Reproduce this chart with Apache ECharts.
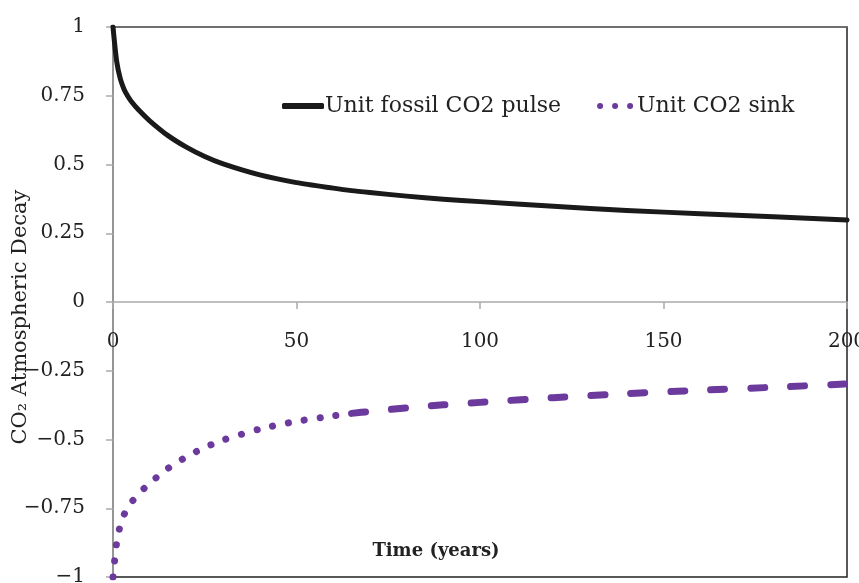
<!DOCTYPE html>
<html>
<head>
<meta charset="utf-8">
<script src="https://cdn.jsdelivr.net/npm/echarts@6/dist/echarts.min.js"></script>
<style>
html,body{margin:0;padding:0;background:#fff;}
#chart{width:859px;height:583px;}
</style>
</head>
<body>
<div id="chart"></div>
<script>
// Data
var years = [0, 1, 2, 3, 4, 5, 7, 10, 15, 20, 25, 30, 40, 50, 60, 65, 70, 80, 90, 100, 120, 140, 160, 180, 200];
var pulse = [1, 0.875, 0.811, 0.774, 0.749, 0.729, 0.698, 0.659, 0.605, 0.563, 0.529, 0.502, 0.462, 0.434, 0.414, 0.405, 0.398, 0.385, 0.374, 0.365, 0.348, 0.333, 0.321, 0.310, 0.298];
var sink = [-1, -0.875, -0.811, -0.774, -0.749, -0.729, -0.698, -0.659, -0.605, -0.563, -0.529, -0.502, -0.462, -0.434, -0.414, -0.405, -0.398, -0.385, -0.374, -0.365, -0.348, -0.333, -0.321, -0.310, -0.298];
var xTicks = [0, 50, 100, 150, 200];
var yTicks = [-1, -0.75, -0.5, -0.25, 0, 0.25, 0.5, 0.75, 1];
var seriesNames = ['Unit fossil CO2 pulse', 'Unit CO2 sink'];
var splitYear = 65; // where the sink line style changes from dots to dashes

var pulseData = years.map(function (y, i) { return [y, pulse[i]]; });
var sinkData = years.map(function (y, i) { return [y, sink[i]]; });
var sinkDots = sinkData.filter(function (d) { return d[0] <= splitYear; });
var sinkDashes = sinkData.filter(function (d) { return d[0] >= splitYear; });

var chart = echarts.init(document.getElementById('chart'));
var font = 'DejaVu Serif';
var purple = '#6b3a9c';
var gridH = 583 - 27 - 6;

chart.setOption({
  animation: false,
  backgroundColor: '#fff',
  grid: {
    left: 113, right: 12, top: 27, bottom: 6,
    containLabel: false, outerBoundsMode: 'none',
    show: true, borderColor: '#222', borderWidth: 1.5, backgroundColor: 'transparent'
  },
  legend: {
    data: [
      { name: seriesNames[0], icon: 'roundRect' },
      { name: seriesNames[1], icon: 'path://M0,3.5a3.5,3.5 0 1,0 7,0a3.5,3.5 0 1,0 -7,0M17.5,3.5a3.5,3.5 0 1,0 7,0a3.5,3.5 0 1,0 -7,0M35,3.5a3.5,3.5 0 1,0 7,0a3.5,3.5 0 1,0 -7,0Z' }
    ],
    left: 277, top: 90,
    itemWidth: 42, itemHeight: 6, itemGap: 36,
    textStyle: { fontFamily: font, fontSize: 22, color: '#222', padding: [0, 0, 0, -4] }
  },
  xAxis: [{
    type: 'value', min: 0, max: 200, interval: 50,
    position: 'bottom', offset: -gridH / 2,
    axisLine: { onZero: false, lineStyle: { color: '#aaa', width: 1.5 } },
    axisTick: { show: true, length: 7, lineStyle: { color: '#aaa', width: 1.5 } },
    splitLine: { show: false },
    axisLabel: {
      margin: 30, fontFamily: font, fontSize: 20, color: '#222',
      formatter: function (v) { return xTicks.indexOf(v) >= 0 ? String(v) : ''; }
    },
    name: 'Time (years)', nameLocation: 'middle', nameGap: 240, nameMoveOverlap: false,
    nameTextStyle: { fontFamily: font, fontSize: 18, fontWeight: 'bold', color: '#222', padding: [0, 88, 0, 0] }
  }, {
    type: 'value', min: 0, max: 200, position: 'top',
    axisLine: { onZero: false, lineStyle: { color: '#777', width: 1.5 } },
    axisTick: { show: false }, axisLabel: { show: false }, splitLine: { show: false }
  }],
  yAxis: {
    type: 'value', min: -1, max: 1, interval: 0.25,
    axisLine: { show: true, onZero: false, lineStyle: { color: '#aaa', width: 1.5 } },
    axisTick: { show: true, length: 7, lineStyle: { color: '#aaa', width: 1.5 } },
    splitLine: { show: false },
    axisLabel: {
      margin: 28, fontFamily: font, fontSize: 20, color: '#222',
      formatter: function (v) {
        var m = yTicks.filter(function (t) { return Math.abs(t - v) < 1e-9; });
        if (!m.length) return '';
        return String(v).replace('-', '\u2212');
      }
    },
    name: 'CO\u2082 Atmospheric Decay', nameLocation: 'middle', nameGap: 82, nameRotate: 90,
    nameMoveOverlap: false,
    nameTextStyle: { fontFamily: font, fontSize: 21, color: '#222', padding: [0, 30, 0, 0] }
  },
  series: [{
    name: seriesNames[0], type: 'line', data: pulseData,
    symbol: 'none', smooth: 0.25,
    lineStyle: { color: '#1a1a1a', width: 5, cap: 'round', join: 'round' },
    itemStyle: { color: '#1a1a1a' }
  }, {
    name: seriesNames[1], type: 'line', data: sinkDots,
    symbol: 'none', smooth: 0.25,
    lineStyle: { color: purple, width: 7, type: [0.1, 16], cap: 'round' },
    itemStyle: { color: purple }
  }, {
    name: seriesNames[1], type: 'line', data: sinkDashes,
    symbol: 'none', smooth: 0.25,
    lineStyle: { color: purple, width: 7, type: [14, 26], cap: 'round' },
    itemStyle: { color: purple }
  }]
});
</script>
</body>
</html>
